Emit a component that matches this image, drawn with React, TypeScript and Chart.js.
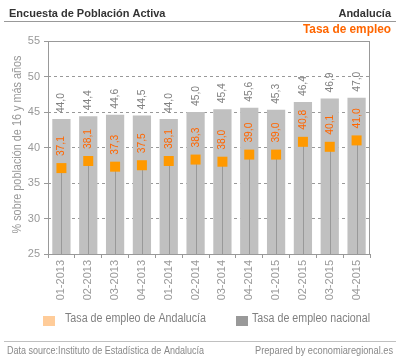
import React, { useEffect, useRef } from 'react';
import { Chart, registerables } from 'chart.js';

Chart.register(...registerables);

const categories = ['01-2013', '02-2013', '03-2013', '04-2013', '01-2014', '02-2014', '03-2014', '04-2014', '01-2015', '02-2015', '03-2015', '04-2015'];
const nationalRate = [44.0, 44.4, 44.6, 44.5, 44.0, 45.0, 45.4, 45.6, 45.3, 46.4, 46.9, 47.0];
const andaluciaRate = [37.1, 38.1, 37.3, 37.5, 38.1, 38.3, 38.0, 39.0, 39.0, 40.8, 40.1, 41.0];
const yTicks = [25, 30, 35, 40, 45, 50, 55];

const headerLeft = 'Encuesta de Población Activa';
const headerRight = 'Andalucía';
const subTitle = 'Tasa de empleo';
const yTitle = '% sobre población de 16 y más años';
const legendAnd = 'Tasa de empleo de Andalucía';
const legendNat = 'Tasa de empleo nacional';
const footLeft = 'Data source:Instituto de Estadística de Andalucía';
const footRight = 'Prepared by economiaregional.es';

const FONT = '"Liberation Sans", Arial, sans-serif';
const fmt = (v: number) => v.toFixed(1).replace('.', ',');

const decor = {
  id: 'decor',
  afterDatasetDraw(chart: any, args: any) {
    if (args.index !== 0) return;
    const ctx = chart.ctx;
    const meta = chart.getDatasetMeta(1);
    const bottom = chart.chartArea.bottom;
    ctx.save();
    ctx.strokeStyle = '#999999';
    ctx.lineWidth = 1;
    meta.data.forEach((p: any) => {
      const x = Math.round(p.x) + 0.5;
      ctx.beginPath();
      ctx.moveTo(x, bottom);
      ctx.lineTo(x, p.y);
      ctx.stroke();
    });
    ctx.restore();
  },
  afterDatasetsDraw(chart: any) {
    const ctx = chart.ctx;
    const { left, right, top, bottom } = chart.chartArea;
    ctx.save();
    // frame
    ctx.strokeStyle = '#999999';
    ctx.lineWidth = 1;
    ctx.strokeRect(Math.round(left) + 0.5, Math.round(top) + 0.5, Math.round(right - left) - 1, Math.round(bottom - top));
    // labels
    ctx.font = `11px ${FONT}`;
    ctx.textAlign = 'left';
    ctx.textBaseline = 'middle';
    const barMeta = chart.getDatasetMeta(0);
    barMeta.data.forEach((b: any, i: number) => {
      ctx.save();
      ctx.translate(b.x, b.y - 6);
      ctx.rotate(-Math.PI / 2);
      ctx.fillStyle = '#808080';
      ctx.fillText(fmt(nationalRate[i]), 0, 0, 20);
      ctx.restore();
    });
    const ptMeta = chart.getDatasetMeta(1);
    ptMeta.data.forEach((p: any, i: number) => {
      ctx.save();
      ctx.translate(p.x, p.y - 12);
      ctx.rotate(-Math.PI / 2);
      ctx.fillStyle = '#ff6600';
      ctx.fillText(fmt(andaluciaRate[i]), 0, 0, 20);
      ctx.restore();
    });
    ctx.restore();
  },
  afterDraw(chart: any) {
    const ctx = chart.ctx;
    const { top, bottom } = chart.chartArea;
    ctx.save();
    // header
    ctx.fillStyle = '#333333';
    ctx.font = `bold 11px ${FONT}`;
    ctx.textBaseline = 'alphabetic';
    ctx.textAlign = 'left';
    ctx.fillText(headerLeft, 9, 17, 159);
    ctx.textAlign = 'right';
    ctx.fillText(headerRight, 391, 17);
    ctx.strokeStyle = '#999999';
    ctx.lineWidth = 1;
    ctx.beginPath();
    ctx.moveTo(4, 21.5);
    ctx.lineTo(396, 21.5);
    ctx.stroke();
    ctx.fillStyle = '#ff6600';
    ctx.font = `bold 12px ${FONT}`;
    ctx.fillText(subTitle, 391, 33, 88);
    // y title
    ctx.save();
    ctx.translate(18, (top + bottom) / 2 - 3);
    ctx.rotate(-Math.PI / 2);
    ctx.textAlign = 'center';
    ctx.textBaseline = 'middle';
    ctx.fillStyle = '#999999';
    ctx.font = `12px ${FONT}`;
    ctx.fillText(yTitle, 0, 0, 178);
    ctx.restore();
    // legend
    ctx.fillStyle = '#ffcc99';
    ctx.fillRect(43, 316, 12, 10);
    ctx.fillStyle = '#999999';
    ctx.fillRect(236, 316, 12, 10);
    ctx.fillStyle = '#808080';
    ctx.font = `12px ${FONT}`;
    ctx.textAlign = 'left';
    ctx.textBaseline = 'alphabetic';
    ctx.fillText(legendAnd, 65, 322, 141);
    ctx.fillText(legendNat, 252, 322, 118);
    // footer
    ctx.strokeStyle = '#c0c0c0';
    ctx.beginPath();
    ctx.moveTo(4, 341.5);
    ctx.lineTo(396, 341.5);
    ctx.stroke();
    ctx.fillStyle = '#888888';
    ctx.font = `10px ${FONT}`;
    ctx.fillText(footLeft, 7, 354, 197);
    ctx.textAlign = 'right';
    ctx.fillText(footRight, 393, 354, 138);
    ctx.restore();
  },
};

export default function App() {
  const ref = useRef<HTMLCanvasElement | null>(null);
  useEffect(() => {
    document.body.style.margin = '0';
    const canvas = ref.current;
    if (!canvas) return;
    const chart = new Chart(canvas, {
      type: 'bar',
      data: {
        labels: categories,
        datasets: [
          {
            type: 'bar',
            label: legendNat,
            data: nationalRate,
            backgroundColor: '#c0c0c0',
            borderWidth: 0,
            barPercentage: 0.68,
            categoryPercentage: 1,
            order: 2,
          } as any,
          {
            type: 'line',
            label: legendAnd,
            data: andaluciaRate,
            showLine: false,
            pointStyle: 'rect',
            pointRadius: 7.07,
            pointBackgroundColor: '#ff9900',
            pointBorderWidth: 0,
            pointBorderColor: '#ff9900',
            order: 1,
          } as any,
        ],
      },
      options: {
        animation: false,
        responsive: false,
        devicePixelRatio: 1,
        layout: { padding: { left: 0, top: 41, right: 31, bottom: 0 } },
        plugins: {
          legend: { display: false },
          tooltip: { enabled: false },
          title: { display: false },
        },
        scales: {
          x: {
            grid: { display: true, drawOnChartArea: false, offset: true, color: '#999999', tickLength: 4 },
            border: { display: false },
            ticks: {
              color: '#999999',
              font: { family: FONT, size: 11 },
              minRotation: 90,
              maxRotation: 90,
              autoSkip: false,
              padding: 2,
            },
            afterFit: (s: any) => {
              s.height = 107;
            },
          },
          y: {
            min: 25,
            max: 55,
            afterBuildTicks: (s: any) => {
              s.ticks = yTicks.map((v) => ({ value: v }));
            },
            grid: { color: '#999999', tickLength: 4, tickBorderDash: [] },
            border: { display: false, dash: [3, 3] },
            ticks: {
              color: '#999999',
              font: { family: FONT, size: 11 },
              padding: 4,
              callback: (v: any) => String(v),
            },
            afterFit: (s: any) => {
              s.width = 48;
            },
          },
        },
      } as any,
      plugins: [decor],
    });
    return () => chart.destroy();
  }, []);
  return (
    <div style={{ width: 401, height: 361, background: '#ffffff' }}>
      <canvas ref={ref} width={401} height={361} style={{ display: 'block' }} />
    </div>
  );
}
